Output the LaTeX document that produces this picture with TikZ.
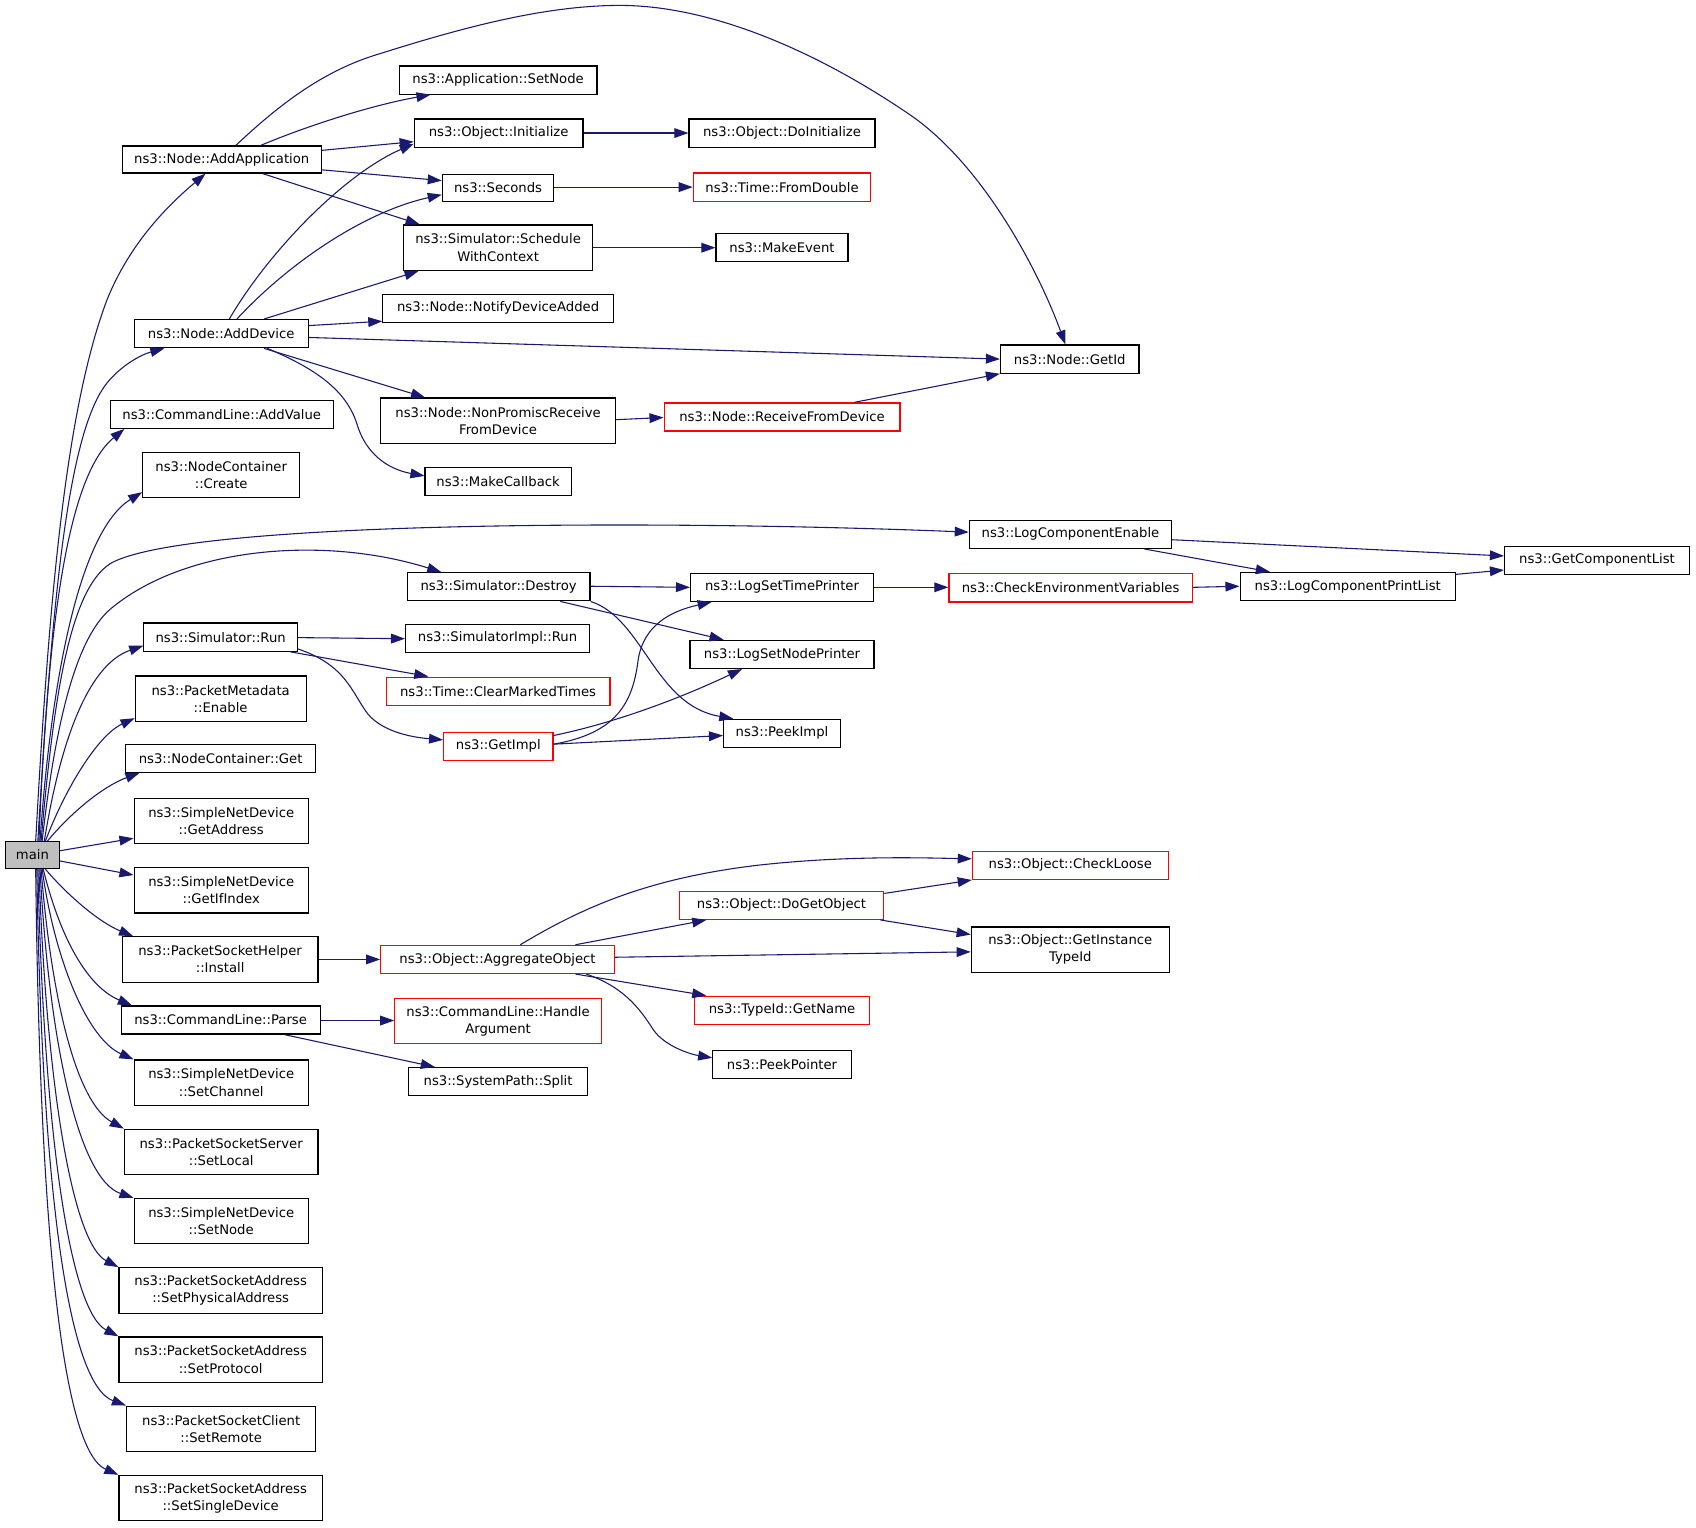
\documentclass[tikz,border=0pt]{standalone}
\usepackage{fontspec}
\setmainfont{DejaVu Sans}
\usetikzlibrary{arrows.meta}
\definecolor{edgec}{HTML}{191970}
\definecolor{mainfill}{HTML}{BFBFBF}
\definecolor{redline}{HTML}{FF0000}
\tikzset{
  box/.style={draw=black, line width=0.55pt, fill=white, inner sep=0pt, align=center,
    font=\fontsize{6.1}{8}\selectfont},
  redbox/.style={box, draw=redline},
  mainbox/.style={box, fill=mainfill},
  edg/.style={draw=edgec, line width=0.5pt, -{Triangle[length=6.5pt,width=4.5pt]}},
}
\newcommand{\mkbox}[7]{\node[#1, minimum width=#5*0.5pt, minimum height=#6*0.5pt] (#2) at (#3,#4) {#7};}
\begin{document}
\begin{tikzpicture}[x=0.5pt,y=-0.5pt]
\useasboundingbox (0,0) rectangle (1568,1412);
% column 1
\mkbox{mainbox}{main}{30}{790.5}{50}{25}{main}
\mkbox{box}{app}{205}{147.5}{184}{25}{ns3::Node::AddApplication}
\mkbox{box}{adddev}{204.5}{308.5}{161}{26}{ns3::Node::AddDevice}
\mkbox{box}{addval}{205}{383}{206}{26}{ns3::CommandLine::AddValue}
\mkbox{box}{create}{204.5}{439}{145}{42}{ns3::NodeContainer\\::Create}
\mkbox{box}{simrun}{204}{589}{142}{26}{ns3::Simulator::Run}
\mkbox{box}{pmeta}{204}{646}{158}{42}{ns3::PacketMetadata\\::Enable}
\mkbox{box}{ncget}{204}{701}{176}{26}{ns3::NodeContainer::Get}
\mkbox{box}{getaddr}{204.5}{759}{161}{42}{ns3::SimpleNetDevice\\::GetAddress}
\mkbox{box}{getif}{204.5}{823}{161}{42}{ns3::SimpleNetDevice\\::GetIfIndex}
\mkbox{box}{install}{203.5}{887}{181}{42}{ns3::PacketSocketHelper\\::Install}
\mkbox{box}{parse}{204}{943}{184}{26}{ns3::CommandLine::Parse}
\mkbox{box}{setchan}{204.5}{1001}{161}{42}{ns3::SimpleNetDevice\\::SetChannel}
\mkbox{box}{setlocal}{204.5}{1065}{179}{42}{ns3::PacketSocketServer\\::SetLocal}
\mkbox{box}{setnode}{204.5}{1129}{161}{42}{ns3::SimpleNetDevice\\::SetNode}
\mkbox{box}{setphys}{204}{1193}{188}{42}{ns3::PacketSocketAddress\\::SetPhysicalAddress}
\mkbox{box}{setproto}{204}{1257}{188}{42}{ns3::PacketSocketAddress\\::SetProtocol}
\mkbox{box}{setremote}{204.5}{1321}{175}{42}{ns3::PacketSocketClient\\::SetRemote}
\mkbox{box}{setsingle}{204}{1385}{188}{42}{ns3::PacketSocketAddress\\::SetSingleDevice}
% column 2
\mkbox{box}{appsetnode}{460.5}{74}{183}{26}{ns3::Application::SetNode}
\mkbox{box}{init}{461}{123}{156}{26}{ns3::Object::Initialize}
\mkbox{box}{seconds}{460.5}{173.5}{103}{25}{ns3::Seconds}
\mkbox{box}{sched}{460.5}{229}{175}{42}{ns3::Simulator::Schedule\\WithContext}
\mkbox{box}{notify}{460.5}{285}{213}{26}{ns3::Node::NotifyDeviceAdded}
\mkbox{box}{nonprom}{460.5}{389}{217}{42}{ns3::Node::NonPromiscReceive\\FromDevice}
\mkbox{box}{mkcb}{460.5}{445}{135}{26}{ns3::MakeCallback}
\mkbox{box}{destroy}{461}{542.5}{169}{26}{ns3::Simulator::Destroy}
\mkbox{box}{implrun}{460}{590}{170}{26}{ns3::SimulatorImpl::Run}
\mkbox{redbox}{clear}{460.5}{639}{207}{26}{ns3::Time::ClearMarkedTimes}
\mkbox{redbox}{getimpl}{460.7}{690}{101}{26}{ns3::GetImpl}
\mkbox{redbox}{aggr}{460}{887}{216}{26}{ns3::Object::AggregateObject}
\mkbox{redbox}{handle}{460.5}{944}{191}{42}{ns3::CommandLine::Handle\\Argument}
\mkbox{box}{split}{460.5}{1000}{165}{26}{ns3::SystemPath::Split}
% column 3
\mkbox{box}{doinit}{723}{123}{172}{26}{ns3::Object::DoInitialize}
\mkbox{redbox}{fromdbl}{723}{173}{164}{26}{ns3::Time::FromDouble}
\mkbox{box}{mkevent}{723}{229}{122}{26}{ns3::MakeEvent}
\mkbox{redbox}{recv}{723}{385.5}{218}{26}{ns3::Node::ReceiveFromDevice}
\mkbox{box}{timeprn}{723}{543}{169}{26}{ns3::LogSetTimePrinter}
\mkbox{box}{nodeprn}{723}{605}{170}{26}{ns3::LogSetNodePrinter}
\mkbox{box}{peekimpl}{723}{678}{108}{26}{ns3::PeekImpl}
\mkbox{redbox}{dogetobj}{722.5}{837}{189}{26}{ns3::Object::DoGetObject}
\mkbox{redbox}{getname}{723}{934}{162}{26}{ns3::TypeId::GetName}
\mkbox{box}{peekptr}{723}{984}{128}{26}{ns3::PeekPointer}
% column 4
\mkbox{box}{getid}{989}{332}{128}{26}{ns3::Node::GetId}
\mkbox{box}{lce}{989.7}{494}{187}{26}{ns3::LogComponentEnable}
\mkbox{redbox}{checkenv}{989.8}{543.5}{225}{26}{ns3::CheckEnvironmentVariables}
\mkbox{redbox}{checkloose}{989.5}{800}{181}{26}{ns3::Object::CheckLoose}
\mkbox{box}{getinst}{989.5}{878}{183}{42}{ns3::Object::GetInstance\\TypeId}
% column 5, 6
\mkbox{box}{lcpl}{1246}{542.2}{199}{26}{ns3::LogComponentPrintList}
\mkbox{box}{gcl}{1476.5}{518}{171}{26}{ns3::GetComponentList}

% edges from main (upwards)
\draw[edg] (main.north -| 33,0) .. controls (45,560) and (60,380) .. (99,277) .. controls (120,225) and (155,190) .. (app.south -| 190,0);
\draw[edg] (main.north -| 35,0) .. controls (48,560) and (62,400) .. (99,354) .. controls (112,338) and (130,328) .. (adddev.south -| 152,0);
\draw[edg] (main.north -| 36,0) .. controls (44,580) and (62,440) .. (addval.south -| 115,0);
\draw[edg] (main.north -| 37,0) .. controls (48,620) and (75,490) .. (create.west |- 0,455);
\draw[edg] (main.north -| 38,0) .. controls (50,640) and (65,545) .. (102,521) .. controls (170,482) and (600,480) .. (lce.west |- 0,492);
\draw[edg] (main.north -| 39,0) .. controls (52,660) and (72,590) .. (101,564) .. controls (170,505) and (300,495) .. (destroy.north -| 408,0);
\draw[edg] (main.north -| 41,0) .. controls (55,690) and (80,615) .. (simrun.west |- 0,597);
\draw[edg] (main.north -| 42,0) .. controls (60,730) and (90,680) .. (pmeta.west |- 0,664);
\draw[edg] (main.north -| 44,0) .. controls (65,752) and (95,727) .. (ncget.south -| 129,0);
\draw[edg] (main.east |- 0,786.5) -- (getaddr.west |- 0,775);
\draw[edg] (main.east |- 0,796) -- (getif.west |- 0,809);
% edges from main (downwards)
\draw[edg] (main.south -| 42,0) .. controls (60,825) and (90,852) .. (install.north -| 123,0);
\draw[edg] (main.south -| 40,0) .. controls (55,865) and (80,912) .. (parse.north -| 122,0);
\draw[edg] (main.south -| 39,0) .. controls (50,885) and (80,960) .. (setchan.north west);
\draw[edg] (main.south -| 38,0) .. controls (48,930) and (72,1020) .. (setlocal.north west);
\draw[edg] (main.south -| 37,0) .. controls (45,960) and (72,1090) .. (setnode.north west);
\draw[edg] (main.south -| 36,0) .. controls (43,1010) and (68,1150) .. (setphys.north west);
\draw[edg] (main.south -| 35,0) .. controls (41,1060) and (66,1213) .. (setproto.north west);
\draw[edg] (main.south -| 34,0) .. controls (39,1110) and (64,1280) .. (setremote.north west);
\draw[edg] (main.south -| 33,0) .. controls (37,1160) and (60,1342) .. (setsingle.north west);

% AddApplication
\draw[edg] (app.north -| 241,0) .. controls (280,118) and (340,98) .. (appsetnode.south -| 398,0);
\draw[edg] (app.east |- 0,139) -- (init.west |- 0,131);
\draw[edg] (app.east |- 0,157) -- (seconds.west |- 0,167);
\draw[edg] (app.south -| 243,0) -- (sched.north -| 388,0);
\draw[edg] (app.north -| 218,0) .. controls (260,95) and (300,65) .. (350,50) .. controls (420,28) and (500,5) .. (573,5) .. controls (660,5) and (760,50) .. (844,108) .. controls (910,155) and (960,250) .. (getid.north -| 985,0);
% AddDevice
\draw[edg] (adddev.north -| 212,0) .. controls (250,230) and (320,160) .. (init.west |- 0,133);
\draw[edg] (adddev.north -| 219,0) .. controls (270,240) and (340,195) .. (seconds.west |- 0,180);
\draw[edg] (adddev.north -| 244,0) -- (sched.south -| 387,0);
\draw[edg] (adddev.east |- 0,301) -- (notify.west |- 0,297);
\draw[edg] (adddev.east |- 0,312) -- (getid.west |- 0,332);
\draw[edg] (adddev.south -| 244,0) -- (nonprom.north -| 393,0);
\draw[edg] (adddev.south -| 247,0) .. controls (290,340) and (320,360) .. (330,392) .. controls (340,425) and (365,435) .. (mkcb.west |- 0,440);
% simple chains
\draw[edg] (init.east |- 0,123) -- (doinit.west |- 0,123);
\draw[edg] (seconds.east |- 0,173) -- (fromdbl.west |- 0,173);
\draw[edg] (sched.east |- 0,229) -- (mkevent.west |- 0,229);
\draw[edg] (nonprom.east |- 0,388) -- (recv.west |- 0,386);
\draw[edg] (recv.north -| 790,0) -- (getid.south west);
\draw[edg] (lce.east |- 0,499) -- (gcl.west |- 0,514);
\draw[edg] (lce.south -| 1058,0) -- (lcpl.north -| 1174,0);
\draw[edg] (timeprn.east |- 0,543) -- (checkenv.west |- 0,543);
\draw[edg] (checkenv.east |- 0,543) -- (lcpl.west |- 0,542);
\draw[edg] (lcpl.east |- 0,531) -- (gcl.west |- 0,527);
% Destroy
\draw[edg] (destroy.east |- 0,542) -- (timeprn.west |- 0,543);
\draw[edg] (destroy.south -| 518,0) -- (nodeprn.north -| 669,0);
\draw[edg] (destroy.south east) .. controls (595,572) and (605,652) .. (peekimpl.north -| 678,0);
% Simulator::Run
\draw[edg] (simrun.east |- 0,589.5) -- (implrun.west |- 0,590.5);
\draw[edg] (simrun.south -| 268,0) -- (clear.north -| 396,0);
\draw[edg] (simrun.east |- 0,600) .. controls (320,615) and (325,640) .. (340,660) .. controls (355,678) and (385,682) .. (getimpl.west |- 0,684);
% GetImpl
\draw[edg] (getimpl.east |- 0,688) .. controls (570,678) and (585,650) .. (590,610) .. controls (595,578) and (620,565) .. (timeprn.south -| 658,0);
\draw[edg] (getimpl.east |- 0,680) .. controls (570,668) and (630,645) .. (nodeprn.south -| 686,0);
\draw[edg] (getimpl.east |- 0,688) -- (peekimpl.west |- 0,680);
% Install / AggregateObject
\draw[edg] (install.east |- 0,887) -- (aggr.west |- 0,887);
\draw[edg] (aggr.north -| 481,0) .. controls (540,838) and (600,812) .. (700,800) .. controls (780,791) and (850,793) .. (checkloose.west |- 0,794);
\draw[edg] (aggr.north -| 532,0) -- (dogetobj.south -| 653,0);
\draw[edg] (aggr.east |- 0,885) -- (getinst.west |- 0,880);
\draw[edg] (aggr.south -| 532,0) -- (getname.north -| 653,0);
\draw[edg] (aggr.south -| 542,0) .. controls (575,912) and (590,930) .. (604,952) .. controls (615,968) and (640,975) .. (peekptr.west |- 0,978);
\draw[edg] (dogetobj.east |- 0,826) -- (checkloose.south west);
\draw[edg] (dogetobj.south -| 814,0) -- (getinst.west |- 0,864);
% Parse
\draw[edg] (parse.east |- 0,943.5) -- (handle.west |- 0,943.5);
\draw[edg] (parse.south -| 263,0) -- (split.north -| 402,0);
\end{tikzpicture}
\end{document}
